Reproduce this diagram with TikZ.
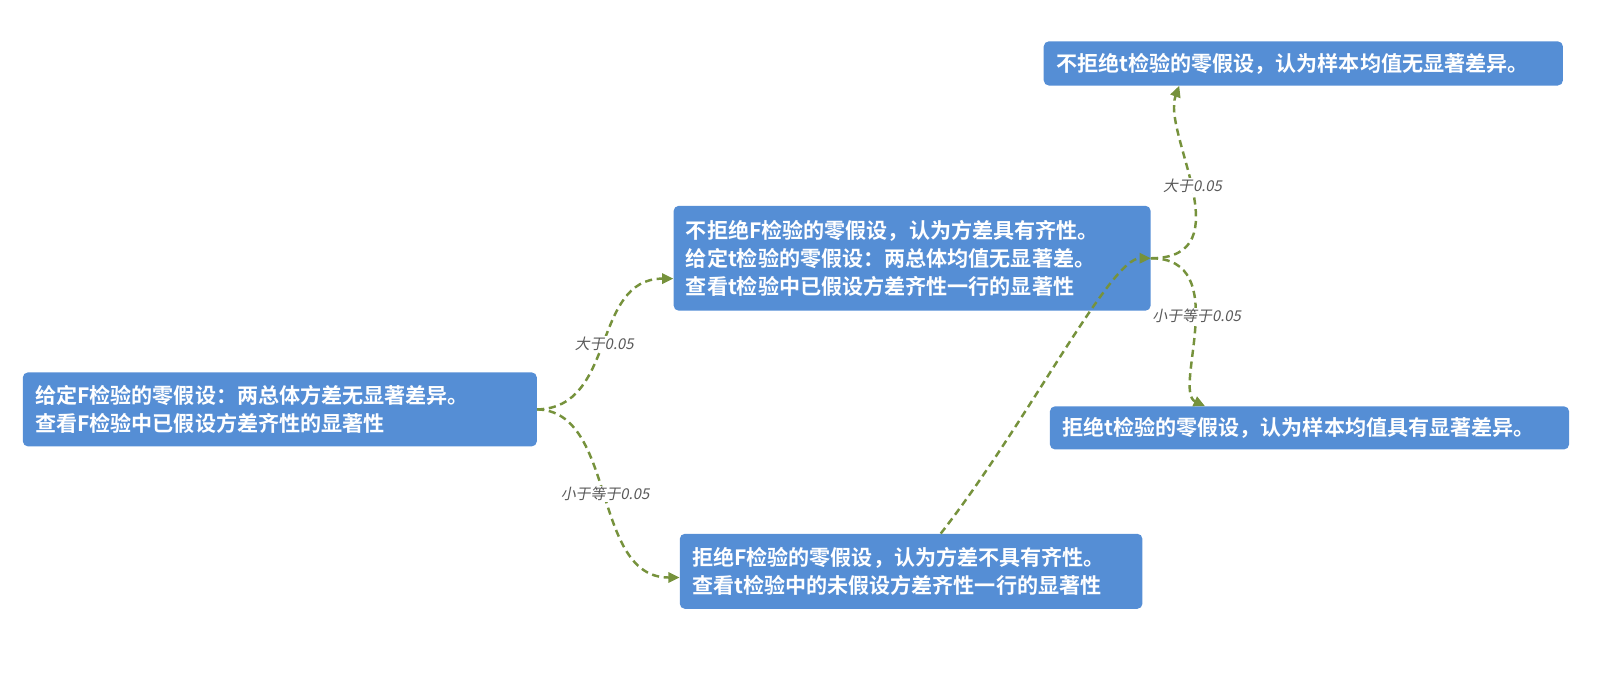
\documentclass[tikz,border=0pt]{standalone}
\usepackage{fontspec}
\newfontfamily\cjk{Noto Sans CJK SC}
\newfontfamily\cjkb{Noto Sans CJK SC Bold}
\newfontfamily\cjki[FakeSlant=0.2]{Noto Sans CJK SC}
\usetikzlibrary{calc,arrows.meta}
\definecolor{boxc}{HTML}{558ED5}
\definecolor{linec}{HTML}{76923C}
\definecolor{labc}{HTML}{595959}
\begin{document}
\begin{tikzpicture}[x=1pt,y=-1pt,
  box/.style={fill=boxc,rounded corners=5pt,text=white,anchor=north west,align=left,
    inner xsep=12pt,inner ysep=0pt,font=\cjkb\fontsize{20.5}{27}\selectfont},
  conn/.style={draw=linec,line width=2.4pt,dash pattern=on 7pt off 4.5pt,
    -{Triangle[length=11pt,width=10pt]}},
  lab/.style={text=labc,font=\cjki\fontsize{14.5}{16}\selectfont,fill=white,inner sep=1pt}]
\useasboundingbox (0,0) rectangle (1566,655);
\node[box,text width=476pt,minimum height=72pt] (A) at (22,362) {给定F检验的零假设：两总体方差无显著差异。\\查看F检验中已假设方差齐性的显著性};
\node[box,text width=440pt,minimum height=102pt] (B) at (655,200) {不拒绝F检验的零假设，认为方差具有齐性。\\给定t检验的零假设：两总体均值无显著差。\\查看t检验中已假设方差齐性一行的显著性};
\node[box,text width=426pt,minimum height=73pt] (C) at (661,519) {拒绝F检验的零假设，认为方差不具有齐性。\\查看t检验中的未假设方差齐性一行的显著性};
\node[box,text width=481pt,minimum height=43pt] (D) at (1015,40) {不拒绝t检验的零假设，认为样本均值无显著差异。};
\node[box,text width=481pt,minimum height=42pt] (E) at (1021,395) {拒绝t检验的零假设，认为样本均值具有显著差异。};
\coordinate (Bin) at ($(B.north west)+(0,71)$);
\coordinate (Cin) at ($(C.west)+(0,6)$);
\coordinate (Ctop) at ($(C.north west)+(254,0)$);
\coordinate (Din) at ($(D.south west)+(132,0)$);
\coordinate (Ein) at ($(E.north west)+(151,0)$);
\draw[conn] (A.east) .. controls (600,397) and (575,271) .. (Bin) node[lab,pos=0.5] {大于0.05};
\draw[conn] (A.east) .. controls (600,400) and (575,562) .. (Cin) node[lab,pos=0.5] {小于等于0.05};
\draw[conn] (Ctop) .. controls (1000,410) and (1080,251) .. (B.east);
\draw[conn,-{Triangle[length=11pt,width=10pt]}] (B.east) .. controls (1210,251) and (1130,130) .. (Din) node[lab,pos=0.52] {大于0.05};
\draw[conn] (B.east) .. controls (1200,251) and (1140,380) .. (Ein) node[lab,pos=0.45] {小于等于0.05};
\end{tikzpicture}
\end{document}
